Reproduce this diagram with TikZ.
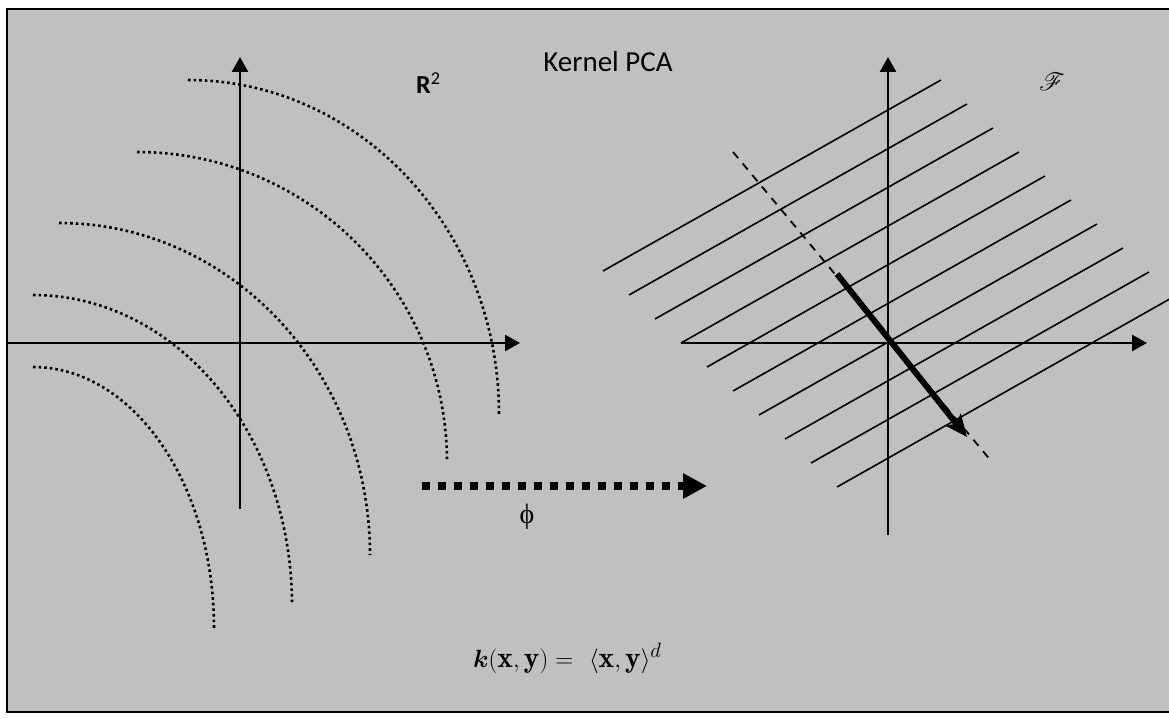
\documentclass[tikz,border=0pt]{standalone}
\usepackage{fontspec}
\usepackage{amsmath,amssymb,bm}
\usepackage{mathrsfs}
\usetikzlibrary{arrows.meta}
\newfontfamily\calibri{Carlito}
\newfontfamily\timesf{Liberation Serif}
\definecolor{ink}{RGB}{0,0,0}
\definecolor{panel}{RGB}{192,192,192}
\tikzset{
  frame/.style={draw=ink,line width=1.6pt,fill=panel},
  axis/.style={draw=ink,line width=2.6pt,-{Triangle[length=15pt,width=16pt]}},
  ring/.style={draw=ink,line width=2.6pt,dash pattern=on 2.6pt off 3pt},
  hatch/.style={draw=ink,line width=1.6pt},
  pcdir/.style={draw=ink,line width=1.8pt,dash pattern=on 8pt off 7pt},
  pcarr/.style={draw=ink,line width=6pt,-{Stealth[length=22pt,width=19pt,inset=5pt]}},
  maparr/.style={draw=ink,line width=8pt,dash pattern=on 8pt off 8pt,
    -{Triangle[length=24pt,width=24pt]}},
  lbl/.style={inner sep=0pt,text=ink},
}

\begin{document}
\begin{tikzpicture}[x=1pt,y=-1pt]
  \useasboundingbox (0,0) rectangle (1169,719);
  \fill[white] (0,0) rectangle (1169,719);
  \draw[frame] (7,9) rectangle (1190,712);

  % input space
  \coordinate (lw) at (7,343);
  \coordinate (le) at (520,343);
  \coordinate (ls) at (240,509);
  \coordinate (ln) at (240,57);
  \foreach \sx/\sy/\rx/\ry in {188/80/311/334,137/152/310/310,59/223/311/332,
      33/295/259/310,33/367/181/261}
    \draw[ring] (\sx,\sy) arc[start angle=-90,end angle=0,x radius=\rx,y radius=\ry];
  \draw[axis] (lw) -- (le);
  \draw[axis] (ls) -- (ln);
  \node[lbl,anchor=base west] (r2) at (416,94)
    {\fontsize{26}{30}\selectfont\calibri\textbf{R}\textsuperscript{2}};

  % feature space
  \coordinate (rw) at (681,343);
  \coordinate (re) at (1147,343);
  \coordinate (rs) at (888,535);
  \coordinate (rn) at (888,57);
  \foreach \i in {0,...,9}
    \draw[hatch] ({603+26*\i},{271+24*\i}) -- ++(338,-191);
  \draw[axis] (rw) -- (re);
  \draw[axis] (rs) -- (rn);
  \coordinate (da) at (733,152);
  \coordinate (db) at (992,462);
  \coordinate (pa) at (837,274);
  \coordinate (pb) at (967,437);
  \draw[pcdir] (da) -- (db);
  \draw[pcarr] (pa) -- (pb);
  \node[lbl] (fs) at (1052,82) {\fontsize{26}{30}\selectfont$\mathscr{F}$};

  % map and title
  \node[lbl] (title) at (608,62) {\fontsize{29}{34}\selectfont\calibri Kernel PCA};
  \coordinate (ma) at (422,486);
  \coordinate (mb) at (707,486);
  \draw[maparr] (ma) -- (mb);
  \node[lbl] (phi) at (527,517) {\fontsize{28}{32}\selectfont\timesf ϕ};
  \node[lbl,anchor=base west] (kern) at (473,667)
    {\fontsize{29.5}{34}\selectfont$\bm{k}(\mathbf{x},\mathbf{y}) =\ \langle\mathbf{x},\mathbf{y}\rangle^{d}$};
\end{tikzpicture}
\end{document}
